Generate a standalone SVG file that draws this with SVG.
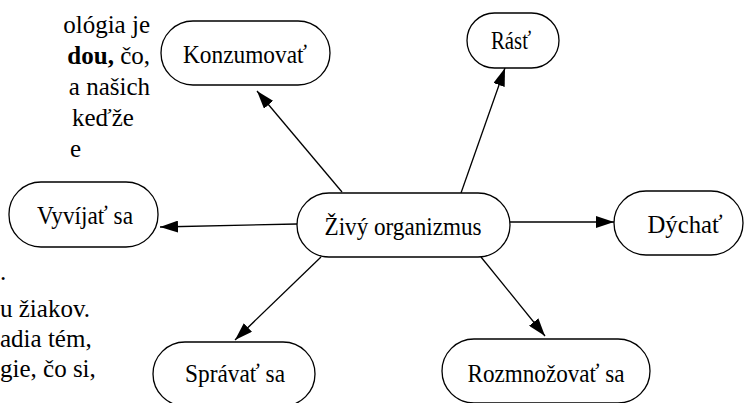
<svg xmlns="http://www.w3.org/2000/svg" width="746" height="403" viewBox="0 0 746 403" style="font-family:'Liberation Serif','DejaVu Serif',serif">
<style>
.node{fill:#fff;stroke:#000;stroke-width:1.3}
.lbl{font-size:26px;text-anchor:middle;fill:#000}
.para{font-size:25px;fill:#000}
.conn{stroke:#000;stroke-width:1.3;fill:none;marker-end:url(#ah)}
</style>
<defs>
<marker id="ah" viewBox="0 0 18 12" refX="18" refY="6" markerWidth="18" markerHeight="12" markerUnits="userSpaceOnUse" orient="auto">
<path d="M0,0 L18,6 L0,12 z" fill="#000"/>
</marker>
</defs>
<rect width="746" height="403" fill="#fff"/>
<g id="paragraph" style="font-family:'Liberation Serif',serif">
<text class="para" x="150" y="33" text-anchor="end">ológia je</text>
<text class="para" x="150" y="64" text-anchor="end"><tspan font-weight="bold">dou,</tspan> čo,</text>
<text class="para" x="150" y="95" text-anchor="end">a našich</text>
<text class="para" x="72" y="126">keďže</text>
<text class="para" x="70" y="157">e</text>
<text class="para" x="0" y="280">.</text>
<text class="para" x="0" y="317">u žiakov.</text>
<text class="para" x="0" y="347">adia tém,</text>
<text class="para" x="0" y="377">gie, čo si,</text>
</g>
<g id="connectors">
<line class="conn" x1="342" y1="192" x2="257" y2="91"/>
<line class="conn" x1="461" y1="193" x2="505" y2="68"/>
<line class="conn" x1="297" y1="224" x2="160" y2="227"/>
<line class="conn" x1="510" y1="222" x2="614" y2="222"/>
<line class="conn" x1="321" y1="257" x2="235" y2="340"/>
<line class="conn" x1="481" y1="257" x2="545" y2="336"/>
</g>
<g id="n-konzumovat">
<rect class="node" x="161" y="21" width="169" height="64" rx="32"/>
<text class="lbl" x="245" y="63" textLength="124" lengthAdjust="spacingAndGlyphs" style="font-family:'Liberation Serif',serif">Konzumovať</text>
</g>
<g id="n-rast">
<rect class="node" x="467" y="13" width="92" height="55" rx="27.5"/>
<text class="lbl" x="511" y="49" textLength="40" lengthAdjust="spacingAndGlyphs" style="font-family:'Liberation Serif',serif">Rásť</text>
</g>
<g id="n-vyvijat">
<rect class="node" x="9" y="182" width="149" height="65" rx="32"/>
<text class="lbl" x="85" y="224" textLength="96" lengthAdjust="spacingAndGlyphs" style="font-family:'Liberation Serif',serif">Vyvíjať sa</text>
</g>
<g id="n-zivy">
<rect class="node" x="297" y="193" width="213" height="64" rx="32"/>
<text class="lbl" x="403" y="235" textLength="157" lengthAdjust="spacingAndGlyphs" style="font-family:'Liberation Serif',serif">Živý organizmus</text>
</g>
<g id="n-dychat">
<rect class="node" x="614" y="191" width="129" height="64" rx="32"/>
<text class="lbl" x="685" y="233" textLength="75" lengthAdjust="spacingAndGlyphs" style="font-family:'Liberation Serif',serif">Dýchať</text>
</g>
<g id="n-spravat">
<rect class="node" x="153" y="342" width="162" height="64" rx="32"/>
<text class="lbl" x="235" y="382" textLength="100" lengthAdjust="spacingAndGlyphs" style="font-family:'Liberation Serif',serif">Správať sa</text>
</g>
<g id="n-rozmnozovat">
<rect class="node" x="442" y="339" width="208" height="64" rx="32"/>
<text class="lbl" x="546" y="382" textLength="157" lengthAdjust="spacingAndGlyphs" style="font-family:'Liberation Serif',serif">Rozmnožovať sa</text>
</g>
</svg>
